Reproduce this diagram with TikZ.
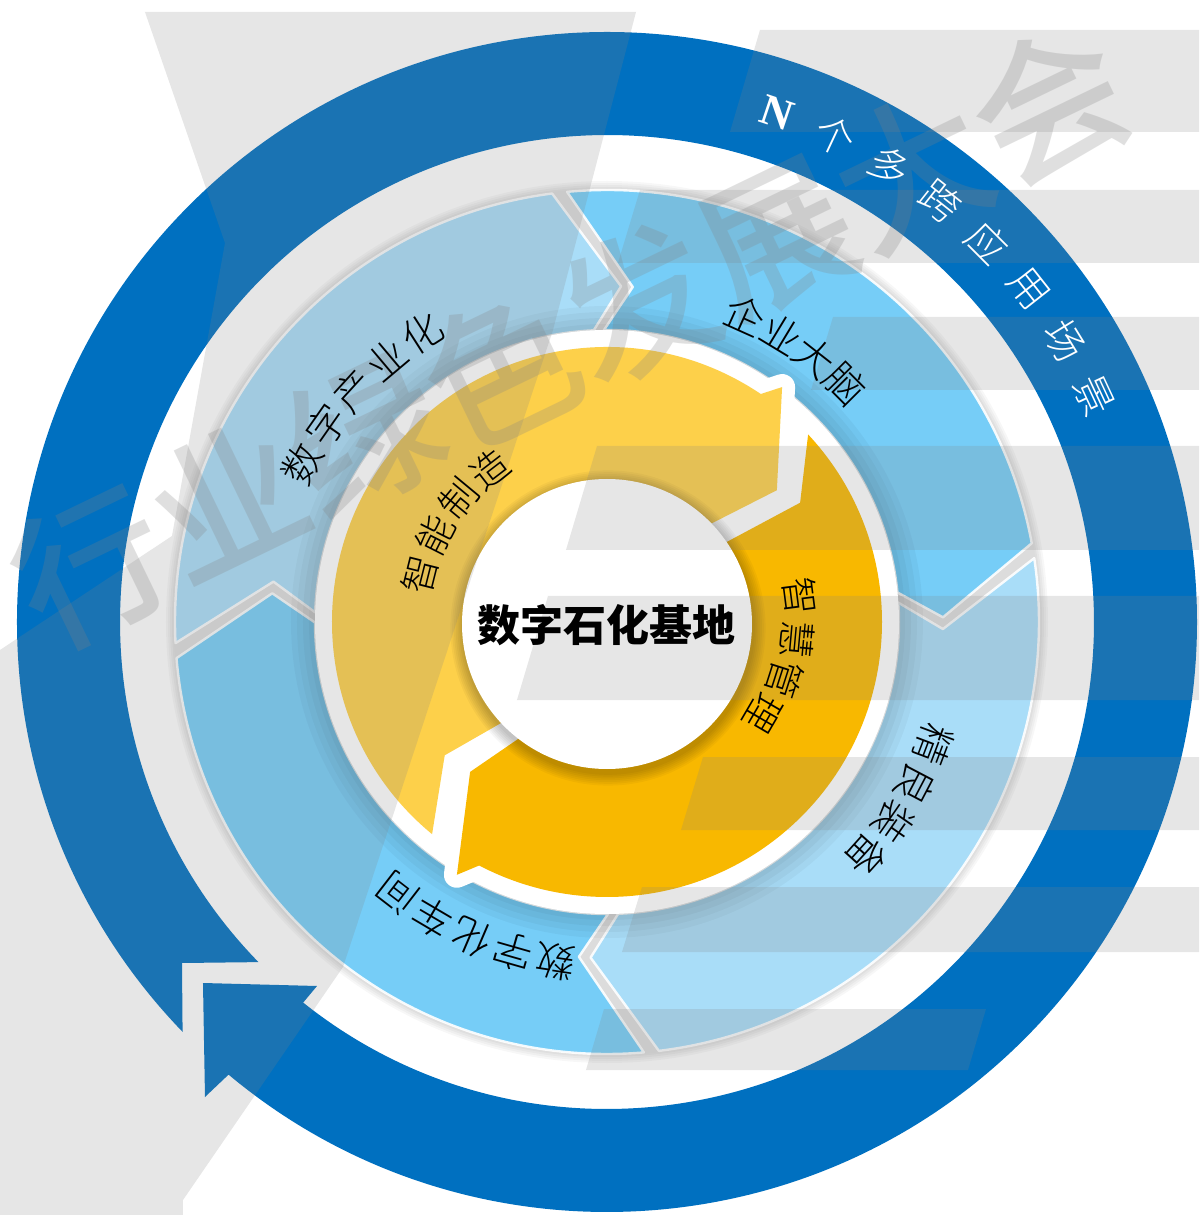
\documentclass[tikz,border=0pt]{standalone}
\usepackage{fontspec}
\setmainfont{Liberation Serif}
\newfontfamily\cjk{Noto Sans CJK SC}
\IfFontExistsTF{Noto Sans CJK SC Light}{\newfontfamily\cjkl{Noto Sans CJK SC Light}}{\newfontfamily\cjkl{Noto Sans CJK SC}}
\IfFontExistsTF{Noto Sans CJK SC Medium}{\newfontfamily\cjkm{Noto Sans CJK SC Medium}}{\newfontfamily\cjkm{Noto Sans CJK SC}}
\definecolor{ringblue}{HTML}{0070C0}
\definecolor{segA}{HTML}{A9DDF8}
\definecolor{segB}{HTML}{76CDF7}
\definecolor{yelA}{HTML}{FDD04A}
\definecolor{yelB}{HTML}{F8B800}
\definecolor{wmgray}{RGB}{130,130,130}
\definecolor{gapgray}{HTML}{DCDCDC}
\begin{document}
\begin{tikzpicture}[x=0.5pt,y=0.5pt,
  lab/.style={font=\cjkl\fontsize{20}{20}\selectfont, inner sep=0pt, text=black},
  ringlab/.style={font=\cjkl\fontsize{20}{20}\selectfont, inner sep=0pt, text=white},
  ylab/.style={font=\cjkl\fontsize{19}{19}\selectfont, inner sep=0pt, text=black},
  wm/.style={fill=wmgray, fill opacity=0.2},
  halo/.style={draw=white, line width=13pt, line join=round, fill=white}]
\useasboundingbox (-607,-593) rectangle (592,622);
\fill[white] (-607,-593) rectangle (592,622);

% outer blue circular arrow
\fill[ringblue] (224:590) arc[start angle=224,end angle=-129.9,radius=590]
  -- (-402,-475) -- (-404,-361) -- (-290,-364)
  -- (-128.6:487) arc[start angle=-128.6,end angle=224.3,radius=487]
  -- (-425,-341) -- cycle;

% soft shadow around the light-blue ring
\foreach \w in {2,4,6,8}{\draw[black,opacity=0.03,line width=\w pt] (0,0) circle (433);}
\fill[gapgray] (0,0) circle (433);

% four chevron segments
\foreach \t/\h/\c in {174.1/86.6/segA, 86.6/-0.2/segB, -0.2/-93.8/segA, -93.8/-185.9/segB}{
  \pgfmathsetmacro\ta{\t-1}
  \pgfmathsetmacro\tao{\t-1+9.7}
  \pgfmathsetmacro\tai{\t-1+5}
  \pgfmathsetmacro\ha{\h+1}
  \pgfmathsetmacro\hao{\h+1+9.7}
  \pgfmathsetmacro\hai{\h+1+5}
  \filldraw[fill=\c, draw=white, draw opacity=0.9, line width=1.2pt, line join=round]
    (\tao:432) arc[start angle=\tao, end angle=\hao, radius=432]
    -- (\ha:336) -- (\hai:292) arc[start angle=\hai, end angle=\tai, radius=292]
    -- (\ta:336) -- cycle;
}
% inner shadow from the white ring
\foreach \w in {6,12,18,24}{\draw[black,opacity=0.035,line width=\w pt] (0,0) circle (292);}
\fill[white] (0,0) circle (292);

% yellow arrows: white halos first, then fills
\path[halo] (56:275) arc[start angle=56,end angle=230.5,radius=275]
  -- (219.4:210) -- (224.5:138) arc[start angle=224.5,end angle=44,radius=138]
  -- (37.8:215) -- (53.3:293) -- cycle;
\path[halo] (43:275) arc[start angle=43,end angle=-117.7,radius=275]
  -- (-120.7:294) -- (-132.4:203) -- (-126:138) arc[start angle=-126,end angle=34,radius=138]
  -- (31.7:227) -- cycle;
\fill[yelA] (56:275) arc[start angle=56,end angle=230.5,radius=275]
  -- (219.4:210) -- (224.5:138) arc[start angle=224.5,end angle=44,radius=138]
  -- (37.8:215) -- (53.3:293) -- cycle;
\fill[yelB] (43:275) arc[start angle=43,end angle=-117.7,radius=275]
  -- (-120.7:294) -- (-132.4:203) -- (-126:138) arc[start angle=-126,end angle=34,radius=138]
  -- (31.7:227) -- cycle;

% centre disc with shadow
\foreach \k in {1,...,7}{\fill[black,opacity=0.035] (1,-6) circle ({145+\k*1.8});}
\fill[white] (0,-2) circle (145);

% watermark
\begin{scope}[shift={(-607,622)}, yscale=-1]
  \fill[wm] (145,12) -- (636,12) -- (553,330) -- (343,967) -- (183,1200) -- (183,1215)
    -- (0,1215) -- (0,650) -- (172,536) -- (225,243) -- cycle;
  \fill[wm] (760,30) -- (1199,30) -- (1199,132) -- (730,132) -- cycle;
  \fill[wm] (640,190) -- (1199,190) -- (1199,263) -- (618,263) -- cycle;
  \fill[wm] (833,317) -- (1199,317) -- (1199,390) -- (811,390) -- cycle;
  \fill[wm] (597,446) -- (1199,446) -- (1199,550) -- (566,550) -- cycle;
  \fill[wm] (548,596) -- (1199,596) -- (1199,700) -- (517,700) -- cycle;
  \fill[wm] (703,757) -- (1199,757) -- (1199,830) -- (681,830) -- cycle;
  \fill[wm] (642,887) -- (1199,887) -- (1199,952) -- (622,952) -- cycle;
  \fill[wm] (604,1009) -- (986,1009) -- (968,1070) -- (586,1070) -- cycle;
\end{scope}
\node[font=\cjkm\fontsize{76}{76}\selectfont, text=wmgray, text opacity=0.25, rotate=25.8, inner sep=0pt] (wmtext) at (-37,286) {行业绿色发展大会};

% ring caption
\node[font=\bfseries\fontsize{22}{22}\selectfont, text=white, rotate=-18.5, inner sep=0pt] (rN) at (71.5:537) {N};
\foreach \ch/\a [count=\i] in {个/64.9,多/58.2,跨/51.6,应/44.9,用/38.3,场/31.6,景/25.0}{
  \pgfmathsetmacro\rr{\a-90}
  \node[ringlab, rotate=\rr] (r\i) at (\a:537) {\ch};
}
% segment labels
\foreach \ch/\a [count=\i] in {数/152.5,字/145.0,产/137.6,业/130.1,化/122.6}{
  \pgfmathsetmacro\rr{\a-90}
  \node[lab, rotate=\rr] (ua\i) at (\a:343) {\ch};
}
\foreach \ch/\a [count=\i] in {企/65.8,业/58.8,大/51.9,脑/44.9}{
  \pgfmathsetmacro\rr{\a-90}
  \node[lab, rotate=\rr] (ub\i) at (\a:337) {\ch};
}
\foreach \ch/\a [count=\i] in {精/-20.6,良/-27.7,装/-34.8,备/-42.0}{
  \pgfmathsetmacro\rr{\a-90}
  \node[lab, rotate=\rr] (uc\i) at (\a:349) {\ch};
}
\foreach \ch/\a [count=\i] in {数/261.4,字/254.1,化/246.8,车/239.5,间/232.3}{
  \pgfmathsetmacro\rr{\a-90}
  \node[lab, rotate=\rr] (ud\i) at (\a:343) {\ch};
}
% yellow labels
\foreach \ch/\a [count=\i] in {智/165.9,能/153.1,制/140.4,造/127.6}{
  \pgfmathsetmacro\rr{\a-90}
  \node[ylab, rotate=\rr] (ya\i) at (\a:193) {\ch};
}
\foreach \ch/\a/\r [count=\i] in {智/7.4/195,慧/-5.2/191,管/-17.7/186,理/-30.3/181}{
  \pgfmathsetmacro\rr{\a-90}
  \node[ylab, rotate=\rr] (yb\i) at (\a:\r) {\ch};
}
% centre title
\node[font=\cjk\bfseries\fontsize{21.5}{21.5}\selectfont, inner sep=0pt] (title) at (0,-3) {数字石化基地};
\end{tikzpicture}
\end{document}
